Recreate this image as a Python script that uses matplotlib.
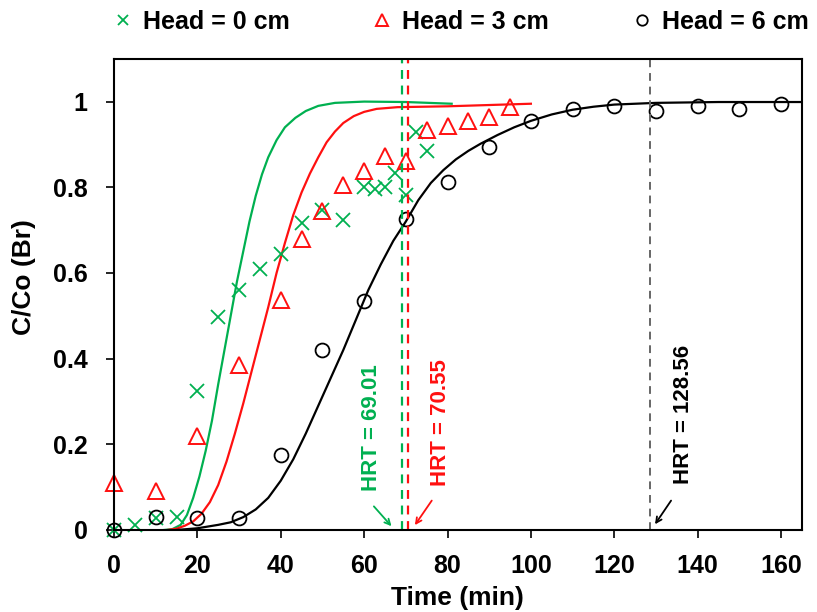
import matplotlib
matplotlib.use("Agg")
import matplotlib.pyplot as plt
import numpy as np

plt.rcParams['font.family'] = ['Liberation Sans', 'DejaVu Sans']
plt.rcParams['font.weight'] = 'bold'

green = '#00B050'
red = '#FF1010'

# measured data
t0 = [0, 5, 10, 15, 20, 25, 30, 35, 40, 45, 50, 55, 60, 62.5, 65, 67.5, 70, 72.5, 75]
c0 = [0, 0.012, 0.027, 0.031, 0.325, 0.497, 0.561, 0.61, 0.645, 0.716, 0.746, 0.723,
      0.80, 0.797, 0.80, 0.833, 0.781, 0.928, 0.884]

t3 = [0, 10, 20, 30, 40, 45, 50, 55, 60, 65, 70, 75, 80, 85, 90, 95]
c3 = [0.11, 0.09, 0.22, 0.385, 0.538, 0.68, 0.745, 0.806, 0.837, 0.872, 0.862,
      0.934, 0.944, 0.955, 0.963, 0.987]

t6 = [0, 10, 20, 30, 40, 50, 60, 70, 80, 90, 100, 110, 120, 130, 140, 150, 160]
c6 = [0, 0.03, 0.027, 0.027, 0.175, 0.42, 0.535, 0.727, 0.813, 0.893, 0.954,
      0.983, 0.99, 0.979, 0.99, 0.983, 0.995]

# fitted curves
ft0 = [12, 14, 16, 17.5, 19, 20.5, 22, 23.5, 25, 26.5, 28, 29.5, 31, 32.5, 34, 35.5,
       37, 39, 41, 43.5, 46, 49, 53, 60, 70, 81]
fc0 = [0, 0.002, 0.012, 0.035, 0.075, 0.125, 0.185, 0.255, 0.34, 0.42, 0.50, 0.58,
       0.65, 0.72, 0.78, 0.83, 0.87, 0.91, 0.94, 0.962, 0.978, 0.99, 0.997, 1.0,
       0.999, 0.995]

ft3 = [12.8, 15, 17, 19, 21, 23, 25, 27, 29, 31, 33, 35, 37, 39, 41, 43, 45, 47,
       49, 51, 53, 55, 57.5, 60, 63, 68, 80, 90, 100]
fc3 = [0, 0.003, 0.01, 0.02, 0.038, 0.065, 0.105, 0.16, 0.225, 0.295, 0.37, 0.445,
       0.52, 0.60, 0.67, 0.735, 0.788, 0.832, 0.87, 0.905, 0.93, 0.95, 0.966, 0.976,
       0.983, 0.987, 0.989, 0.992, 0.995]

ft6 = [15, 20, 25, 28, 31, 34, 37, 40, 43, 46, 49, 52, 55, 58, 61, 64, 67, 70, 73,
       76, 79, 82, 85, 88, 92, 96, 100, 105, 110, 115, 120, 130, 145, 165]
fc6 = [0, 0.004, 0.012, 0.018, 0.03, 0.048, 0.075, 0.115, 0.165, 0.225, 0.29, 0.355,
       0.42, 0.49, 0.56, 0.62, 0.675, 0.72, 0.77, 0.81, 0.84, 0.865, 0.885, 0.902,
       0.922, 0.94, 0.955, 0.97, 0.981, 0.988, 0.993, 0.997, 0.999, 0.999]

hrt = [69.01, 70.55, 128.56]
hrt_labels = ['HRT = 69.01', 'HRT = 70.55', 'HRT = 128.56']

fig = plt.figure(figsize=(8.17, 6.12), dpi=100)
ax = fig.add_axes([0.1395, 0.134, 0.842, 0.770])

ax.plot(ft0, fc0, color=green, lw=1.6)
ax.plot(ft3, fc3, color=red, lw=1.6)
ax.plot(ft6, fc6, color='black', lw=1.6)

ax.plot(t0, c0, 'x', color=green, ms=10, mew=1.3, clip_on=False, label='Head = 0 cm')
ax.plot(t3, c3, '^', mfc='none', mec=red, ms=11, mew=1.4, clip_on=False, label='Head = 3 cm')
ax.plot(t6, c6, 'o', mfc='none', mec='black', ms=10, mew=1.3, clip_on=False, label='Head = 6 cm')

ax.axvline(hrt[0], color=green, ls=(0, (4, 3)), lw=1.6)
ax.axvline(hrt[1], color=red, ls=(0, (4, 3)), lw=1.6)
ax.axvline(hrt[2], color='#666666', ls=(0, (4, 3)), lw=1.4)

ax.text(61.8, 0.24, hrt_labels[0], rotation=90, color=green, fontsize=16,
        fontweight='bold', ha='center', va='center')
ax.text(78.3, 0.25, hrt_labels[1], rotation=90, color=red, fontsize=16,
        fontweight='bold', ha='center', va='center')
ax.text(136.5, 0.27, hrt_labels[2], rotation=90, color='black', fontsize=16,
        fontweight='bold', ha='center', va='center')

ax.annotate('', xy=(67.0, 0.004), xytext=(61.9, 0.06),
            arrowprops=dict(arrowstyle='->', color=green, lw=1.3))
ax.annotate('', xy=(71.8, 0.006), xytext=(76.6, 0.074),
            arrowprops=dict(arrowstyle='->', color=red, lw=1.3))
ax.annotate('', xy=(129.4, 0.008), xytext=(134, 0.074),
            arrowprops=dict(arrowstyle='->', color='black', lw=1.3))

ax.set_xlim(0, 165)
ax.set_ylim(0, 1.1)
ax.set_xticks(np.arange(0, 161, 20))
ax.set_yticks([0, 0.2, 0.4, 0.6, 0.8, 1])
ax.set_yticklabels(['0', '0.2', '0.4', '0.6', '0.8', '1'])
ax.tick_params(direction='out', length=6, width=1.2, labelsize=18)
ax.tick_params(axis='y', pad=13)
ax.tick_params(axis='x', pad=11)
for lab in ax.get_xticklabels() + ax.get_yticklabels():
    lab.set_fontweight('bold')
for s in ax.spines.values():
    s.set_linewidth(1.5)

ax.set_xlabel('Time (min)', fontsize=19, fontweight='bold', labelpad=6)
ax.set_ylabel('C/Co (Br)', fontsize=19, fontweight='bold')
ax.yaxis.set_label_coords(-0.113, 0.536)

leg = fig.legend(loc='center left', bbox_to_anchor=(110.5 / 817, 1 - 22 / 612), ncol=3,
                 frameon=False, fontsize=18, markerscale=0.75, handlelength=1.0,
                 handletextpad=0.3, columnspacing=3.2, borderaxespad=0, borderpad=0)
for txt in leg.get_texts():
    txt.set_fontweight('bold')

plt.savefig('out.png', dpi=100)
